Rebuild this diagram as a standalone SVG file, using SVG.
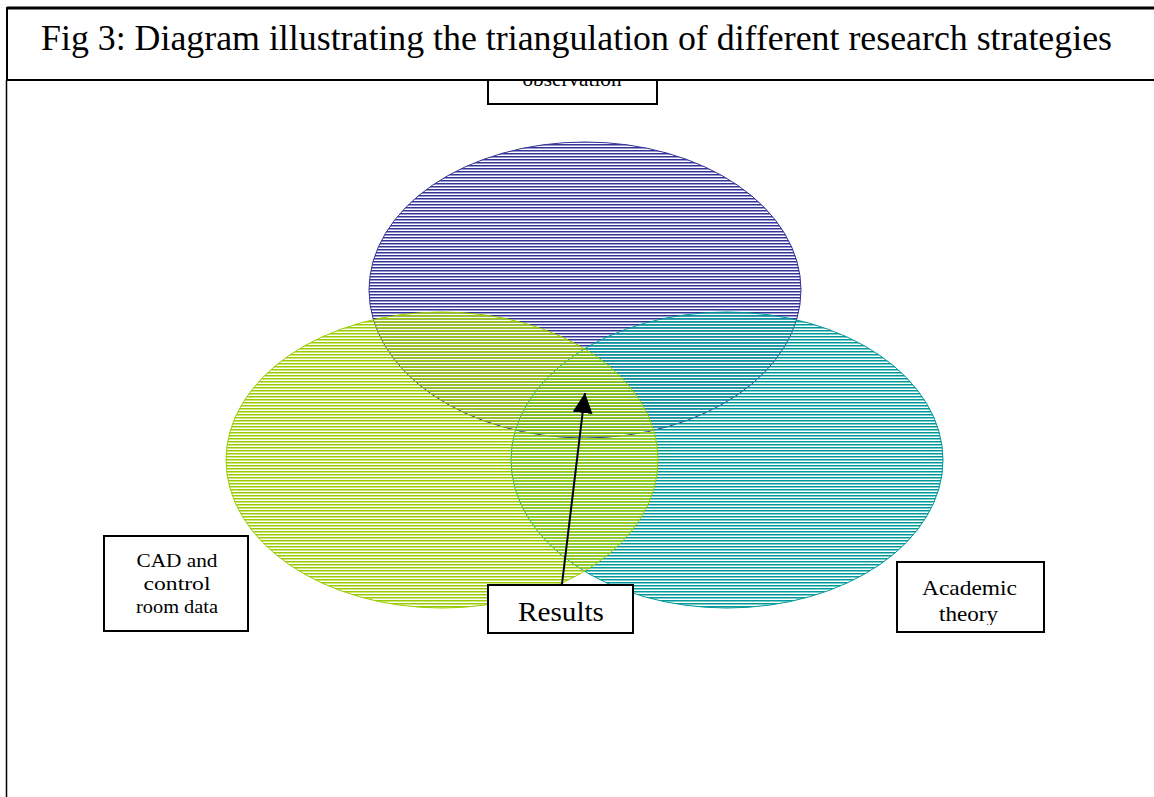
<svg xmlns="http://www.w3.org/2000/svg" width="1154" height="797" viewBox="0 0 1154 797">
<style>
.box{fill:#fff;stroke:#000;stroke-width:2}
.t{font-family:"Liberation Serif","Times New Roman",serif;fill:#000;text-anchor:middle}
</style>
<defs>
<pattern id="hb" width="8" height="3" patternUnits="userSpaceOnUse"><rect x="0" y="0" width="8" height="1.5" fill="#333399"/></pattern>
<pattern id="ht" width="8" height="3" patternUnits="userSpaceOnUse"><rect x="0" y="0" width="8" height="1.5" fill="#009999"/></pattern>
<pattern id="hg" width="8" height="3" patternUnits="userSpaceOnUse"><rect x="0" y="0" width="8" height="1.5" fill="#99cc00"/></pattern>
<marker id="ah" viewBox="0 0 10 10" refX="10" refY="5" markerWidth="20" markerHeight="20" orient="auto" markerUnits="userSpaceOnUse"><path d="M0,0 L10,5 L0,10 z" fill="#000"/></marker>
<clipPath id="clipAc"><rect x="898" y="563" width="145" height="62"/></clipPath>
</defs>
<rect width="1154" height="797" fill="#fff"/>
<line x1="6.5" y1="80" x2="6.5" y2="797" stroke="#000" stroke-width="1.5"/>
<g id="observation">
<rect class="box" x="488" y="40" width="169" height="64"/>
<text class="t" x="572" y="86" font-size="21" textLength="99" lengthAdjust="spacingAndGlyphs">observation</text>
</g>
<g id="ellipse-observation">
<ellipse cx="585" cy="290" rx="216" ry="148" fill="url(#hb)" stroke="#333399" stroke-width="1"/>
</g>
<g id="ellipse-academic">
<ellipse cx="727" cy="460" rx="216" ry="148" fill="url(#ht)" stroke="#009999" stroke-width="1"/>
</g>
<g id="ellipse-cad">
<ellipse cx="442" cy="460" rx="216" ry="148" fill="url(#hg)" stroke="#99cc00" stroke-width="1"/>
</g>
<g id="title">
<rect x="7" y="8" width="1160" height="72" fill="#fff" stroke="#000" stroke-width="2"/>
<line x1="7" y1="8" x2="1154" y2="8" stroke="#000" stroke-width="3"/>
<text class="t" x="576.5" y="50" font-size="36" textLength="1071" lengthAdjust="spacingAndGlyphs">Fig 3: Diagram illustrating the triangulation of different research strategies</text>
</g>
<g id="connectors">
<line x1="562" y1="584" x2="585" y2="393" stroke="#000" stroke-width="2" marker-end="url(#ah)"/>
</g>
<g id="cad">
<rect class="box" x="104" y="536" width="144" height="95"/>
<text class="t" x="177" y="567" font-size="18" textLength="81" lengthAdjust="spacingAndGlyphs">CAD and</text>
<text class="t" x="177" y="590" font-size="18" textLength="67" lengthAdjust="spacingAndGlyphs">control</text>
<text class="t" x="177" y="613" font-size="18" textLength="82" lengthAdjust="spacingAndGlyphs">room data</text>
</g>
<g id="academic">
<rect class="box" x="897" y="562" width="147" height="70"/>
<g clip-path="url(#clipAc)">
<text class="t" x="969.5" y="595" font-size="22" textLength="95" lengthAdjust="spacingAndGlyphs">Academic</text>
<text class="t" x="968.5" y="621" font-size="22" textLength="59" lengthAdjust="spacingAndGlyphs">theory</text>
</g>
</g>
<g id="results">
<rect class="box" x="488" y="585" width="145" height="48"/>
<text class="t" x="561" y="621" font-size="28" textLength="86" lengthAdjust="spacingAndGlyphs">Results</text>
</g>
</svg>
